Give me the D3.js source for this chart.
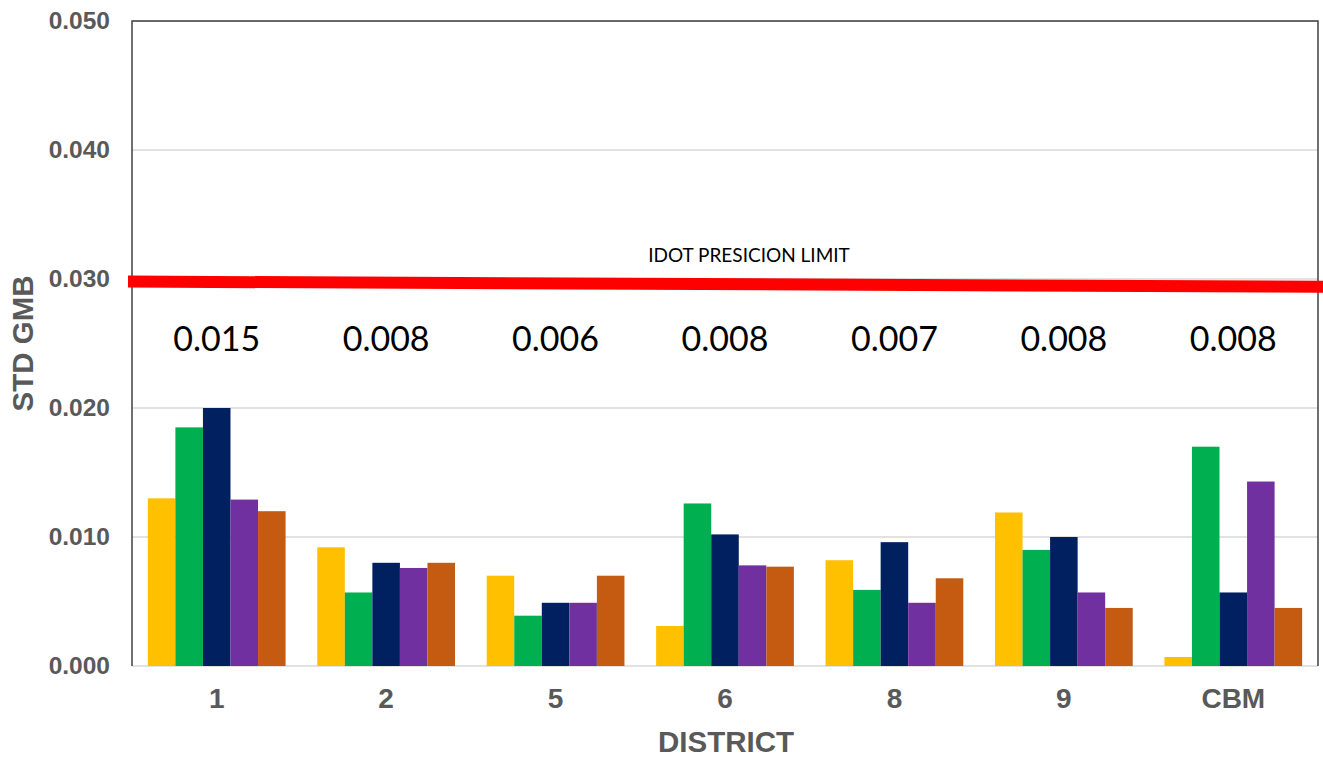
<!DOCTYPE html>
<html>
<head>
<meta charset="utf-8">
<script src="https://cdn.jsdelivr.net/npm/d3@7/dist/d3.min.js"></script>
<style>
  html, body { margin: 0; padding: 0; background: #fff; }
  svg { display: block; }
</style>
</head>
<body>
<svg id="chart" width="1323" height="761"></svg>
<script>
// ---------- data ----------
const districts = ["1", "2", "5", "6", "8", "9", "CBM"];
const seriesNames = ["S1", "S2", "S3", "S4", "S5"];
const seriesColors = ["#FFC000", "#00B050", "#002060", "#7030A0", "#C55A11"];
const s1 = [0.0130, 0.0092, 0.0070, 0.0031, 0.0082, 0.0119, 0.0007];
const s2 = [0.0185, 0.0057, 0.0039, 0.0126, 0.0059, 0.0090, 0.0170];
const s3 = [0.0200, 0.0080, 0.0049, 0.0102, 0.0096, 0.0100, 0.0057];
const s4 = [0.0129, 0.0076, 0.0049, 0.0078, 0.0049, 0.0057, 0.0143];
const s5 = [0.0120, 0.0080, 0.0070, 0.0077, 0.0068, 0.0045, 0.0045];
const groupLabels = ["0.015", "0.008", "0.006", "0.008", "0.007", "0.008", "0.008"];
const yTicks = [0, 0.01, 0.02, 0.03, 0.04, 0.05];
const limitLine = [0.0298, 0.0294]; // red precision-limit line (left, right)
const limitLabel = "IDOT PRESICION LIMIT";
const xTitle = "DISTRICT";
const yTitle = "STD GMB";

const series = [s1, s2, s3, s4, s5];

// ---------- layout ----------
const svg = d3.select("#chart");
const plot = { left: 132, right: 1318, top: 21, bottom: 666 };

const x = d3.scaleBand().domain(districts)
  .range([plot.left, plot.right]).paddingInner(0.187).paddingOuter(0.0935);
const xs = d3.scaleBand().domain(seriesNames).range([0, x.bandwidth()]);
const y = d3.scaleLinear().domain([0, 0.05]).range([plot.bottom, plot.top]);

// gridlines
svg.append("g").selectAll("line").data(yTicks).join("line")
  .attr("x1", plot.left).attr("x2", plot.right)
  .attr("y1", d => y(d)).attr("y2", d => y(d))
  .attr("stroke", "#d9d9d9").attr("stroke-width", 1.5);

// bars
const groups = svg.append("g").selectAll("g").data(districts).join("g")
  .attr("transform", d => `translate(${x(d)},0)`);
groups.selectAll("rect")
  .data((d, i) => series.map((s, k) => ({ k, v: s[i] })))
  .join("rect")
  .attr("x", d => xs(seriesNames[d.k]))
  .attr("width", xs.bandwidth())
  .attr("y", d => y(d.v))
  .attr("height", d => y(0) - y(d.v))
  .attr("fill", d => seriesColors[d.k]);

// plot border (top, left, right)
svg.append("path")
  .attr("d", `M${plot.left},${plot.bottom} V${plot.top} H${plot.right} V${plot.bottom}`)
  .attr("fill", "none").attr("stroke", "#404040").attr("stroke-width", 1.5);

// y axis labels
const yAxis = d3.axisLeft(y).tickValues(yTicks).tickFormat(d3.format(".3f")).tickSize(0).tickPadding(22);
const gy = svg.append("g").attr("transform", `translate(${plot.left},0)`).call(yAxis);
gy.select(".domain").remove();
gy.selectAll("text")
  .attr("font-family", "Liberation Sans, Arial, sans-serif")
  .attr("font-weight", "bold").attr("font-size", 24.5).attr("fill", "#595959");

// x axis labels
const xAxis = d3.axisBottom(x).tickSize(0).tickPadding(22);
const gx = svg.append("g").attr("transform", `translate(0,${plot.bottom})`).call(xAxis);
gx.select(".domain").remove();
gx.selectAll("text")
  .attr("font-family", "Liberation Sans, Arial, sans-serif")
  .attr("font-weight", "bold").attr("font-size", 28).attr("fill", "#595959");

// axis titles
svg.append("text")
  .attr("x", (plot.left + plot.right) / 2 + 1).attr("y", 752)
  .attr("text-anchor", "middle")
  .attr("font-family", "Liberation Sans, Arial, sans-serif")
  .attr("font-weight", "bold").attr("font-size", 29.5).attr("fill", "#595959")
  .text(xTitle);
svg.append("text")
  .attr("transform", `translate(33,${(plot.top + plot.bottom) / 2}) rotate(-90)`)
  .attr("text-anchor", "middle")
  .attr("font-family", "Liberation Sans, Arial, sans-serif")
  .attr("font-weight", "bold").attr("font-size", 29.5).attr("fill", "#595959")
  .text(yTitle);

// red limit line
svg.append("line")
  .attr("x1", plot.left - 4).attr("x2", 1323)
  .attr("y1", y(limitLine[0])).attr("y2", y(limitLine[1]))
  .attr("stroke", "#FF0000").attr("stroke-width", 12);

svg.append("text")
  .attr("x", 749).attr("y", 262)
  .attr("text-anchor", "middle")
  .attr("font-family", "Lato, 'Open Sans', sans-serif")
  .attr("font-size", 19).attr("fill", "#000")
  .text(limitLabel);

// group annotations
svg.append("g").selectAll("text").data(groupLabels).join("text")
  .attr("x", (d, i) => x(districts[i]) + x.bandwidth() / 2)
  .attr("y", 351)
  .attr("text-anchor", "middle")
  .attr("font-family", "Lato, 'Open Sans', sans-serif")
  .attr("font-size", 34).attr("fill", "#000")
  .text(d => d);
</script>
</body>
</html>
